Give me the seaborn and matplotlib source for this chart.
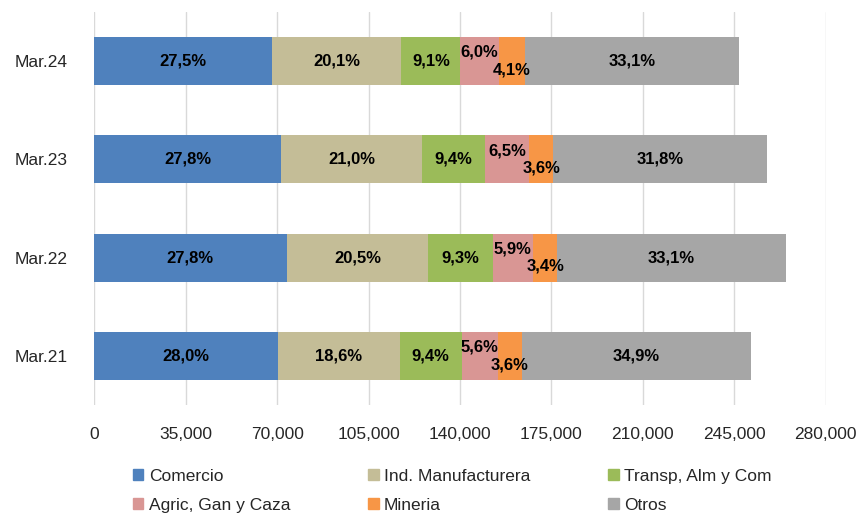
import matplotlib
matplotlib.use("Agg")
import matplotlib.pyplot as plt
import matplotlib.patches as mpatches
import seaborn as sns
import pandas as pd

periods = ["Mar.24", "Mar.23", "Mar.22", "Mar.21"]
totals = [246800, 257500, 264700, 251300]
sectors = ["Comercio", "Ind. Manufacturera", "Transp, Alm y Com",
           "Agric, Gan y Caza", "Mineria", "Otros"]
comercio = [27.5, 27.8, 27.8, 28.0]
manufactura = [20.1, 21.0, 20.5, 18.6]
transporte = [9.1, 9.4, 9.3, 9.4]
agricultura = [6.0, 6.5, 5.9, 5.6]
mineria = [4.1, 3.6, 3.4, 3.6]
otros = [33.1, 31.8, 33.1, 34.9]
tick_values = [0, 35000, 70000, 105000, 140000, 175000, 210000, 245000, 280000]

colors = ["#4F81BD", "#C4BD97", "#9BBB59", "#D99694", "#F79646", "#A6A6A6"]

sns.set_theme(style="white")
plt.rcParams["font.family"] = ["Liberation Sans", "DejaVu Sans"]

shares = [comercio, manufactura, transporte, agricultura, mineria, otros]
rows = []
for i, p in enumerate(periods):
    tot_pct = sum(col[i] for col in shares)
    for s, sh in zip(sectors, shares):
        rows.append({"period": p, "sector": s, "pct": sh[i],
                     "value": totals[i] * sh[i] / tot_pct})
df = pd.DataFrame(rows)
df["cum"] = df.groupby("period")["value"].cumsum()
df["start"] = df["cum"] - df["value"]

fig = plt.figure(figsize=(8.58, 5.13), dpi=100)
ax = fig.add_axes([94.3 / 858, 1 - 405 / 513, (825.7 - 94.3) / 858, (405 - 12) / 513])

for s, c in reversed(list(zip(sectors, colors))):
    sub = df[df["sector"] == s]
    sns.barplot(data=sub, x="cum", y="period", order=periods, color=c,
                orient="h", width=0.49, ax=ax, saturation=1, edgecolor="none")

offsets = {"Agric, Gan y Caza": -0.09, "Mineria": 0.09}
for _, r in df.iterrows():
    yi = periods.index(r["period"])
    dy = offsets.get(r["sector"], 0.0)
    ax.text(r["start"] + r["value"] / 2, yi + dy, f"{r['pct']:.1f}%".replace(".", ","),
            ha="center", va="center", fontsize=12, fontweight="bold", color="black")

ax.set_xlim(0, 280000)
ax.set_ylim(3.5, -0.5)
ax.set_xticks(tick_values)
ax.set_xticklabels([f"{v:,}" for v in tick_values])
ax.grid(axis="x", color="#D9D9D9", linewidth=1)
ax.set_axisbelow(True)
for sp in ax.spines.values():
    sp.set_visible(False)
ax.set_xlabel("")
ax.set_ylabel("")
ax.tick_params(axis="x", labelsize=12.5, pad=16, length=0)
ax.tick_params(axis="y", labelsize=12.5, pad=19, length=0)
for t in ax.get_xticklabels() + ax.get_yticklabels():
    t.set_color("#262626")

handles = [mpatches.Patch(color=c, label=s) for s, c in zip(sectors, colors)]
order = [0, 3, 1, 4, 2, 5]
leg = fig.legend(handles=[handles[k] for k in order], ncol=3, loc="upper left",
                 bbox_to_anchor=(133 / 858, 1 - 469 / 513), frameon=False,
                 fontsize=12.5, handlelength=0.6, handleheight=0.6,
                 handletextpad=0.3, columnspacing=4.5, labelspacing=0.78,
                 borderaxespad=0, borderpad=0)
for t in leg.get_texts():
    t.set_color("#262626")

fig.savefig("out.png", dpi=100)
